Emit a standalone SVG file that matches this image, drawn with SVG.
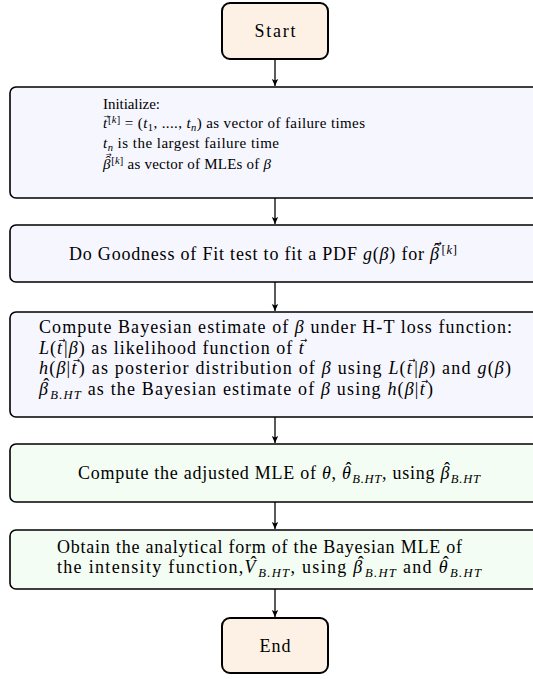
<svg xmlns="http://www.w3.org/2000/svg" width="533" height="679" viewBox="0 0 533 679">
<defs>
<marker id="ah" markerWidth="8" markerHeight="8" refX="7" refY="4" orient="auto" markerUnits="userSpaceOnUse">
<path d="M0,0.8 L7,4 L0,7.2 L1.6,4 Z" fill="#000"/>
</marker>
<style>
.term{fill:#fdf1e6;stroke:#000;stroke-width:2}
.proc{fill:#f6f6ff;stroke:#000;stroke-width:1.6}
.grn{fill:#f3fdf3;stroke:#000;stroke-width:1.6}
.t{font-family:"Liberation Serif","DejaVu Serif",serif;fill:#000}
.a{font-size:15px}
.b{font-size:18px}
.i{font-style:italic}
.s1{font-size:10.5px}
.s2{font-size:12.6px}
.ht{font-style:normal}
.ar{font-family:"DejaVu Sans",sans-serif;font-style:normal}
.c{text-anchor:middle}
.conn path{stroke:#000;stroke-width:1.3;fill:none;marker-end:url(#ah)}
</style>
</defs>
<rect width="533" height="679" fill="#fff"/>
<g class="conn" id="connectors">
<path d="M275,59 V86"/>
<path d="M275,198 V224"/>
<path d="M275,282 V311"/>
<path d="M275,417 V443"/>
<path d="M275,502 V529"/>
<path d="M275,589 V617"/>
</g>
<g id="start">
<rect class="term" x="222" y="3" width="106" height="56" rx="8"/>
<text class="t b c" x="275" y="37" textLength="41" lengthAdjust="spacing">Start</text>
</g>
<g id="init">
<rect class="proc" x="10" y="87" width="530" height="111" rx="6"/>
<text class="t a" x="103" y="109" textLength="57" lengthAdjust="spacing">Initialize:</text>
<text class="t a" x="103" y="128" textLength="262" lengthAdjust="spacing"><tspan class="i">t</tspan><tspan class="ar" font-size="7" dx="-4" dy="-8.8">→</tspan><tspan class="s1" dx="-1.9" dy="8.8" baseline-shift="5">[<tspan class="i">k</tspan>]</tspan> = (<tspan class="i">t</tspan><tspan class="s1" baseline-shift="-2.5">1</tspan>, ...., <tspan class="i">t</tspan><tspan class="s1 i" baseline-shift="-2.5">n</tspan>) as vector of failure times</text>
<text class="t a" x="103" y="148" textLength="176" lengthAdjust="spacing"><tspan class="i">t</tspan><tspan class="s1 i" baseline-shift="-2.5">n</tspan> is the largest failure time</text>
<text class="t a" x="103" y="169" textLength="168" lengthAdjust="spacing"><tspan class="i">β</tspan><tspan class="ht" dx="-5" dy="-3">ˆ</tspan><tspan class="ar" font-size="7" dx="-5.1" dy="-8.8">→</tspan><tspan class="s1" dx="-0.77" dy="11.8" baseline-shift="5">[<tspan class="i">k</tspan>]</tspan> as vector of MLEs of <tspan class="i">β</tspan></text>
</g>
<g id="gof">
<rect class="proc" x="10" y="225" width="530" height="57" rx="6"/>
<text class="t b" x="69" y="260" textLength="388" lengthAdjust="spacing">Do Goodness of Fit test to fit a PDF <tspan class="i">g</tspan>(<tspan class="i">β</tspan>) for <tspan class="i">β</tspan><tspan class="ht" dx="-6" dy="-4">ˆ</tspan><tspan class="ar" font-size="8.5" dx="-6.06" dy="-10.2">→</tspan><tspan class="s2" dx="-1.06" dy="14.2" baseline-shift="6.5">[<tspan class="i">k</tspan>]</tspan></text>
</g>
<g id="bayes">
<rect class="proc" x="10" y="312" width="530" height="105" rx="6"/>
<text class="t b" x="39" y="333" textLength="473" lengthAdjust="spacing">Compute Bayesian estimate of <tspan class="i">β</tspan> under H-T loss function:</text>
<text class="t b" x="39" y="354" textLength="268" lengthAdjust="spacing"><tspan class="i">L</tspan>(<tspan class="i">t</tspan><tspan class="ar" font-size="8.5" dx="-4.86" dy="-10.7">→</tspan><tspan dx="-2.26" dy="10.7">|</tspan><tspan class="i">β</tspan>) as likelihood function of <tspan class="i">t</tspan><tspan class="ar" font-size="8.5" dx="-4.86" dy="-10.7">→</tspan></text>
<text class="t b" x="39" y="374" textLength="472" lengthAdjust="spacing"><tspan class="i">h</tspan>(<tspan class="i">β</tspan>|<tspan class="i">t</tspan><tspan class="ar" font-size="8.5" dx="-4.86" dy="-10.7">→</tspan><tspan dx="-2.26" dy="10.7">)</tspan> as posterior distribution of <tspan class="i">β</tspan> using <tspan class="i">L</tspan>(<tspan class="i">t</tspan><tspan class="ar" font-size="8.5" dx="-4.86" dy="-10.7">→</tspan><tspan dx="-2.26" dy="10.7">|</tspan><tspan class="i">β</tspan>) and <tspan class="i">g</tspan>(<tspan class="i">β</tspan>)</text>
<text class="t b" x="39" y="395" textLength="394" lengthAdjust="spacing"><tspan class="i">β</tspan><tspan class="ht" dx="-6" dy="-4">ˆ</tspan><tspan class="s2 i" dy="4" baseline-shift="-3.5">B.HT</tspan> as the Bayesian estimate of <tspan class="i">β</tspan> using <tspan class="i">h</tspan>(<tspan class="i">β</tspan>|<tspan class="i">t</tspan><tspan class="ar" font-size="8.5" dx="-4.86" dy="-10.7">→</tspan><tspan dx="-2.26" dy="10.7">)</tspan></text>
</g>
<g id="theta">
<rect class="grn" x="10" y="444" width="530" height="58" rx="6"/>
<text class="t b" x="78" y="479" textLength="402" lengthAdjust="spacing">Compute the adjusted MLE of <tspan class="i">θ</tspan>, <tspan class="i">θ</tspan><tspan class="ht" dx="-6" dy="-4">ˆ</tspan><tspan class="s2 i" dy="4" baseline-shift="-3.5">B.HT</tspan>, using <tspan class="i">β</tspan><tspan class="ht" dx="-6" dy="-4">ˆ</tspan><tspan class="s2 i" dy="4" baseline-shift="-3.5">B.HT</tspan></text>
</g>
<g id="intensity">
<rect class="grn" x="10" y="530" width="530" height="59" rx="6"/>
<text class="t b" x="57" y="553" textLength="405" lengthAdjust="spacing">Obtain the analytical form of the Bayesian MLE of</text>
<text class="t b" x="57" y="573" textLength="424" lengthAdjust="spacing">the intensity function,<tspan class="i">V</tspan><tspan class="ht" dx="-6.5" dy="-4">ˆ</tspan><tspan class="s2 i" dx="0.5" dy="4" baseline-shift="-3.5">B.HT</tspan>, using <tspan class="i">β</tspan><tspan class="ht" dx="-6" dy="-4">ˆ</tspan><tspan class="s2 i" dy="4" baseline-shift="-3.5">B.HT</tspan> and <tspan class="i">θ</tspan><tspan class="ht" dx="-6" dy="-4">ˆ</tspan><tspan class="s2 i" dy="4" baseline-shift="-3.5">B.HT</tspan></text>
</g>
<g id="end">
<rect class="term" x="222" y="618" width="106" height="55" rx="8"/>
<text class="t b c" x="275" y="652" textLength="31" lengthAdjust="spacing">End</text>
</g>
</svg>
